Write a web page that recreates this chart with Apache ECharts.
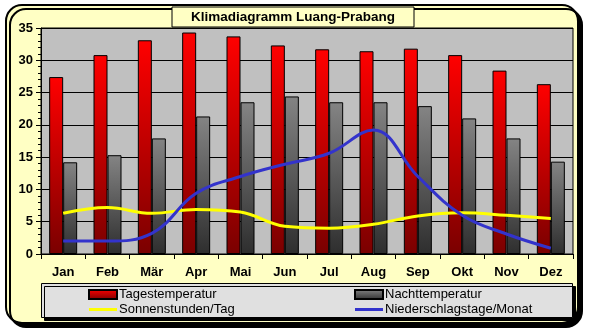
<!DOCTYPE html>
<html>
<head>
<meta charset="utf-8">
<script src="https://cdn.jsdelivr.net/npm/echarts@6/dist/echarts.min.js"></script>
<style>
  html, body { margin: 0; padding: 0; background: #ffffff; }
  #chart { width: 589px; height: 330px; }
</style>
</head>
<body>
<div id="chart"></div>
<script>
// Klimadaten Luang-Prabang
const months = ['Jan', 'Feb', 'Mär', 'Apr', 'Mai', 'Jun', 'Jul', 'Aug', 'Sep', 'Okt', 'Nov', 'Dez'];
const tagesTemp = [27.4, 30.8, 33.1, 34.3, 33.7, 32.3, 31.7, 31.4, 31.8, 30.8, 28.4, 26.3];
const nachtTemp = [14.2, 15.3, 17.9, 21.3, 23.5, 24.4, 23.5, 23.5, 22.9, 21.0, 17.9, 14.3];
const sonnenstunden = [6.3, 7.2, 6.3, 6.9, 6.5, 4.3, 4.0, 4.6, 5.9, 6.4, 6.0, 5.5];
const niederschlagstage = [2.0, 2.0, 3.2, 9.4, 12.0, 13.9, 15.6, 19.2, 12.0, 6.0, 3.1, 0.9];
const yTicks = { min: 0, max: 35, interval: 5 };

const chart = echarts.init(document.getElementById('chart'), null, { renderer: 'canvas' });

const fontFamily = '"Liberation Sans", Arial, sans-serif';

const redFill = new echarts.graphic.LinearGradient(0, 0, 0, 1, [
  { offset: 0, color: '#ff0000' },
  { offset: 1, color: '#7a0000' }
]);
const grayFill = new echarts.graphic.LinearGradient(0, 0, 0, 1, [
  { offset: 0, color: '#848484' },
  { offset: 1, color: '#2e2e2e' }
]);

// thin horizontal bar used as the legend icon of the line series
const lineIcon = 'path://M0,0 L28,0 L28,3 L0,3 Z';

const legendText = { fontFamily: fontFamily, fontSize: 13, color: '#000000', padding: [0, 0, 0, -3] };

chart.setOption({
  animation: false,
  backgroundColor: '#ffffff',
  graphic: [
    // outer rounded frame with hard shadow
    {
      type: 'rect', z: -10, silent: true,
      shape: { x: 6, y: 5, width: 572, height: 318, r: 16 },
      style: {
        fill: '#ffffc4', stroke: '#000000', lineWidth: 2,
        shadowColor: '#000000', shadowBlur: 0, shadowOffsetX: 4, shadowOffsetY: 4
      }
    },
    // title box
    {
      type: 'rect', z: 5, silent: true,
      shape: { x: 172, y: 7, width: 242, height: 20 },
      style: { fill: '#ffffc4', stroke: '#000000', lineWidth: 1 }
    },
    {
      type: 'text', z: 6, silent: true,
      x: 293, y: 17,
      style: {
        text: 'Klimadiagramm Luang-Prabang',
        font: 'bold 13.5px ' + fontFamily,
        fill: '#000000', align: 'center', verticalAlign: 'middle'
      }
    },
    // legend box
    {
      type: 'rect', z: -5, silent: true,
      shape: { x: 41.5, y: 283.5, width: 531, height: 34 },
      style: {
        fill: '#e0e0e0', stroke: '#000000', lineWidth: 1,
        shadowColor: '#000000', shadowBlur: 0, shadowOffsetX: 3, shadowOffsetY: 3
      }
    }
  ],
  grid: {
    left: 41, right: 16, top: 28, bottom: 76,
    show: true, backgroundColor: '#c0c0c0', borderColor: '#000000', borderWidth: 1
  },
  legend: [
    {
      orient: 'vertical', left: 83, top: 283,
      itemWidth: 28, itemHeight: 9, itemGap: 2,
      textStyle: legendText,
      data: [
        { name: 'Tagestemperatur', icon: 'rect' },
        { name: 'Sonnenstunden/Tag', icon: lineIcon }
      ]
    },
    {
      orient: 'vertical', left: 349, top: 283,
      itemWidth: 28, itemHeight: 9, itemGap: 2,
      textStyle: legendText,
      data: [
        { name: 'Nachttemperatur', icon: 'rect' },
        { name: 'Niederschlagstage/Monat', icon: lineIcon }
      ]
    }
  ],
  xAxis: {
    type: 'category',
    data: months,
    boundaryGap: true,
    axisLine: { lineStyle: { color: '#000000', width: 1 } },
    axisTick: { show: true, alignWithLabel: false, length: 5, inside: false, lineStyle: { color: '#000000' } },
    axisLabel: { fontFamily: fontFamily, fontWeight: 'bold', fontSize: 13, color: '#000000', margin: 12 },
    splitLine: { show: false }
  },
  yAxis: {
    type: 'value',
    min: yTicks.min, max: yTicks.max, interval: yTicks.interval,
    axisLine: { show: true, lineStyle: { color: '#000000', width: 1 } },
    axisTick: { show: true, length: 5, lineStyle: { color: '#000000' } },
    minorTick: { show: true, splitNumber: 5, length: 3, lineStyle: { color: '#000000' } },
    axisLabel: { fontFamily: fontFamily, fontWeight: 'bold', fontSize: 13, color: '#000000', margin: 8 },
    splitLine: { show: true, lineStyle: { color: '#000000', width: 1 } }
  },
  series: [
    {
      name: 'Tagestemperatur', type: 'bar', data: tagesTemp,
      barWidth: 14, barGap: '0%',
      itemStyle: { color: redFill, borderColor: '#000000', borderWidth: 1 },
      z: 2
    },
    {
      name: 'Nachttemperatur', type: 'bar', data: nachtTemp,
      barWidth: 14, barGap: '0%',
      itemStyle: { color: grayFill, borderColor: '#000000', borderWidth: 1 },
      z: 2
    },
    {
      name: 'Sonnenstunden/Tag', type: 'line', data: sonnenstunden,
      smooth: 0.4, symbol: 'none',
      lineStyle: { color: '#ffff00', width: 3 },
      itemStyle: { color: '#ffff00' },
      z: 4
    },
    {
      name: 'Niederschlagstage/Monat', type: 'line', data: niederschlagstage,
      smooth: 0.4, symbol: 'none',
      lineStyle: { color: '#3333cc', width: 3 },
      itemStyle: { color: '#3333cc' },
      z: 5
    }
  ]
});
</script>
</body>
</html>
